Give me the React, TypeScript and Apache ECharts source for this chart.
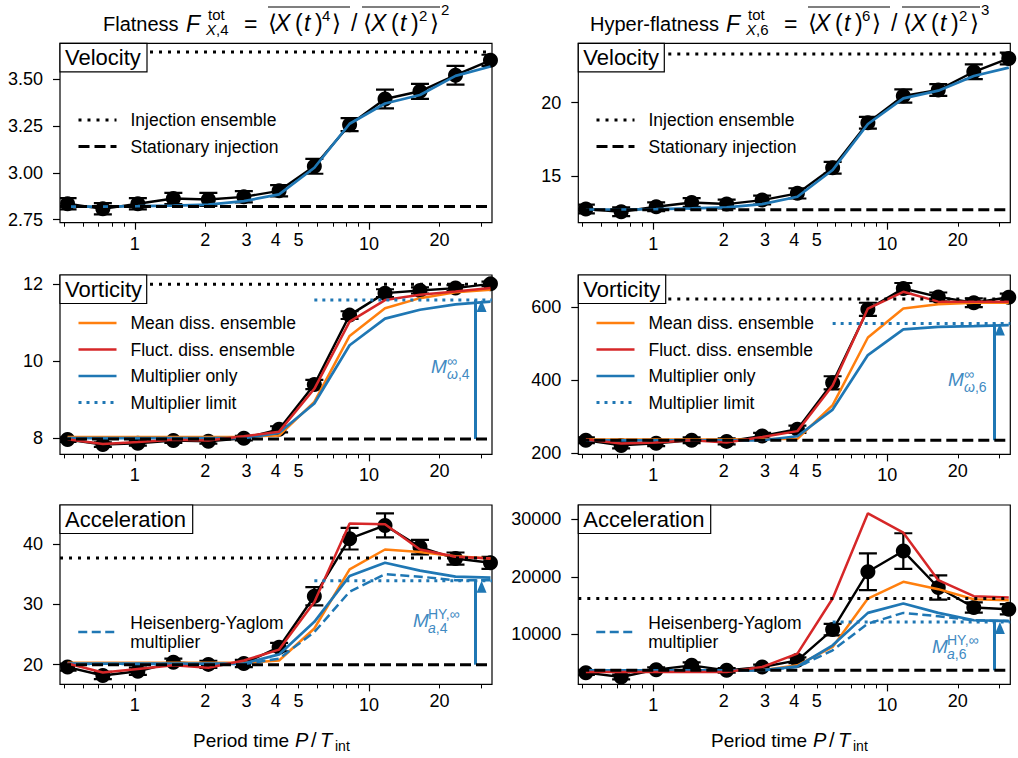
import React, { useEffect, useRef } from 'react';
import * as echarts from 'echarts';

const FONT = '"Liberation Sans", Arial, "DejaVu Sans", sans-serif';
const BLUE = '#1f77b4';
const ORANGE = '#ff7f0e';
const RED = '#d62728';
const ANN = '#3f8ac2';

// ---------------- data ----------------
const periods = [0.516, 0.73, 1.03, 1.46, 2.06, 2.92, 4.13, 5.84, 8.26, 11.7, 16.5, 23.4, 33.0];
const xMajorTicks = [1, 10];
const xMinorTicks = [0.5, 0.6, 0.7, 0.8, 0.9, 2, 3, 4, 5, 6, 7, 8, 9, 20, 30];
const xMinorLabels = [2, 3, 4, 5, 20];
const xRange = [0.479, 33.5];
const limitStart = 5.84;
const arrowX = 28.5;

// Velocity, flatness
const velF4Dns = [2.835, 2.808, 2.835, 2.863, 2.858, 2.872, 2.904, 3.035, 3.257, 3.394, 3.435, 3.521, 3.6];
const velF4Err = [0.03, 0.03, 0.03, 0.03, 0.035, 0.03, 0.03, 0.04, 0.035, 0.05, 0.04, 0.05, 0.03];
const velF4Mult = [2.82, 2.82, 2.822, 2.825, 2.83, 2.849, 2.885, 3.027, 3.262, 3.37, 3.415, 3.517, 3.567];
const velF4Inj = 3.644;
const velF4Stat = 2.82;
const velF4Ticks = [2.75, 3.0, 3.25, 3.5];

// Velocity, hyper-flatness
const velF6Dns = [12.75, 12.57, 12.91, 13.2, 13.09, 13.36, 13.82, 15.57, 18.64, 20.46, 20.87, 22.11, 23.02];
const velF6Err = [0.3, 0.3, 0.3, 0.3, 0.3, 0.3, 0.35, 0.4, 0.4, 0.45, 0.4, 0.5, 0.4];
const velF6Mult = [12.72, 12.72, 12.75, 12.8, 12.86, 13.09, 13.59, 15.41, 18.55, 20.3, 20.82, 21.82, 22.39];
const velF6Inj = 23.32;
const velF6Stat = 12.7;
const velF6Ticks = [15, 20];

// Vorticity, flatness
const vorF4Dns = [7.965, 7.835, 7.87, 7.94, 7.92, 8.0, 8.23, 9.39, 11.19, 11.76, 11.83, 11.89, 12.0];
const vorF4Err = [0.06, 0.06, 0.06, 0.06, 0.06, 0.06, 0.08, 0.12, 0.1, 0.1, 0.08, 0.08, 0.06];
const vorF4Mean = [8.03, 8.03, 8.03, 8.03, 8.03, 8.04, 8.07, 8.94, 10.65, 11.37, 11.63, 11.78, 11.85];
const vorF4Fluct = [7.97, 7.85, 7.9, 7.96, 7.94, 8.05, 8.17, 9.28, 11.02, 11.58, 11.72, 11.8, 11.89];
const vorF4Mult = [8.0, 8.0, 8.0, 8.0, 8.0, 8.0, 8.14, 8.9, 10.41, 11.1, 11.33, 11.47, 11.54];
const vorF4Limit = 11.585;
const vorF4Inj = 11.99;
const vorF4Stat = 7.98;
const vorF4Ticks = [8, 10, 12];

// Vorticity, hyper-flatness
const vorF6Dns = [235, 221, 227, 235, 232, 247, 265, 392, 593, 650, 627, 611, 626];
const vorF6Err = [8, 8, 8, 8, 8, 8, 10, 18, 18, 15, 12, 12, 10];
const vorF6Mean = [237, 237, 237, 237, 237, 238, 239, 331, 516, 595, 607, 611, 611];
const vorF6Fluct = [237, 226, 229, 235, 229, 244, 260, 385, 595, 641, 614, 614, 614];
const vorF6Mult = [235, 235, 235, 235, 235, 235, 246, 319, 468, 538, 545, 547, 550];
const vorF6Limit = 554;
const vorF6Inj = 621;
const vorF6Stat = 235;
const vorF6Ticks = [200, 400, 600];

// Acceleration, flatness
const accF4Dns = [19.6, 18.2, 18.9, 20.4, 20.05, 20.2, 22.9, 31.35, 40.9, 43.1, 39.5, 37.6, 36.9];
const accF4Err = [0.6, 0.6, 0.6, 0.6, 0.6, 0.6, 0.7, 1.5, 1.8, 2.0, 1.2, 1.0, 1.0];
const accF4Mean = [20.3, 20.3, 20.3, 20.3, 20.3, 20.3, 20.7, 26.0, 35.8, 39.1, 38.7, 38.0, 37.6];
const accF4Fluct = [20.2, 18.7, 19.3, 19.9, 19.5, 20.7, 22.5, 30.4, 43.4, 43.3, 39.1, 37.9, 37.6];
const accF4Mult = [20.17, 20.17, 20.17, 20.17, 20.17, 20.2, 21.7, 27.1, 34.7, 36.9, 35.6, 34.6, 34.45];
const accF4HY = [20.1, 20.1, 20.1, 20.1, 20.1, 20.1, 21.0, 25.4, 32.1, 35.0, 34.6, 34.0, 34.0];
const accF4Limit = 33.9;
const accF4Inj = 37.7;
const accF4Stat = 20.0;
const accF4Ticks = [20, 30, 40];

// Acceleration, hyper-flatness
const accF6Dns = [3314, 2558, 3837, 4593, 3721, 4302, 5465, 10814, 20872, 24477, 18140, 14651, 14360];
const accF6Err = [400, 400, 400, 500, 400, 400, 500, 1000, 3200, 3100, 2100, 900, 900];
const accF6Mean = [3721, 3721, 3721, 3721, 3721, 3721, 4593, 7790, 16221, 19128, 17849, 16105, 15930];
const accF6Fluct = [3430, 3430, 3430, 3430, 3430, 4302, 6628, 16221, 31047, 27674, 19419, 16628, 16395];
const accF6Mult = [3721, 3721, 3721, 3721, 3721, 3721, 4419, 8081, 13721, 15349, 13721, 12442, 12326];
const accF6HY = [3721, 3721, 3721, 3721, 3721, 3721, 4302, 7209, 11860, 13721, 13140, 12442, 12267];
const accF6Limit = 12151;
const accF6Inj = 16221;
const accF6Stat = 3721;
const accF6Ticks = [10000, 20000, 30000];

// ---------------- layout ----------------
const GRID_LEFT = [60, 578.3];
const GRID_TOP = [43.3, 275, 505];
const GRID_W = 432;
const GRID_H = 179.4;

type Panel = {
  label: string; boxW: number; yRange: number[]; yTicks: number[]; dec: number;
  dns: number[]; err: number[]; mult: number[]; mean?: number[]; fluct?: number[]; hy?: number[];
  limit?: number; inj: number; stat: number; legend: string[]; legendTop: number;
};

const panels: Panel[] = [
  { label: 'Velocity', boxW: 87, yRange: [2.734, 3.691], yTicks: velF4Ticks, dec: 2, dns: velF4Dns, err: velF4Err, mult: velF4Mult, inj: velF4Inj, stat: velF4Stat, legend: ['Injection ensemble', 'Stationary injection'], legendTop: 110 },
  { label: 'Velocity', boxW: 86, yRange: [11.82, 24.05], yTicks: velF6Ticks, dec: 0, dns: velF6Dns, err: velF6Err, mult: velF6Mult, inj: velF6Inj, stat: velF6Stat, legend: ['Injection ensemble', 'Stationary injection'], legendTop: 110 },
  { label: 'Vorticity', boxW: 86.7, yRange: [7.58, 12.23], yTicks: vorF4Ticks, dec: 0, dns: vorF4Dns, err: vorF4Err, mult: vorF4Mult, mean: vorF4Mean, fluct: vorF4Fluct, limit: vorF4Limit, inj: vorF4Inj, stat: vorF4Stat, legend: ['Mean diss. ensemble', 'Fluct. diss. ensemble', 'Multiplier only', 'Multiplier limit'], legendTop: 313 },
  { label: 'Vorticity', boxW: 87.4, yRange: [196.4, 686.8], yTicks: vorF6Ticks, dec: 0, dns: vorF6Dns, err: vorF6Err, mult: vorF6Mult, mean: vorF6Mean, fluct: vorF6Fluct, limit: vorF6Limit, inj: vorF6Inj, stat: vorF6Stat, legend: ['Mean diss. ensemble', 'Fluct. diss. ensemble', 'Multiplier only', 'Multiplier limit'], legendTop: 313 },
  { label: 'Acceleration', boxW: 132.7, yRange: [16.73, 46.48], yTicks: accF4Ticks, dec: 0, dns: accF4Dns, err: accF4Err, mult: accF4Mult, mean: accF4Mean, fluct: accF4Fluct, hy: accF4HY, limit: accF4Limit, inj: accF4Inj, stat: accF4Stat, legend: ['Heisenberg-Yaglom multiplier'], legendTop: 613 },
  { label: 'Acceleration', boxW: 132.4, yRange: [1274, 32496], yTicks: accF6Ticks, dec: 0, dns: accF6Dns, err: accF6Err, mult: accF6Mult, mean: accF6Mean, fluct: accF6Fluct, hy: accF6HY, limit: accF6Limit, inj: accF6Inj, stat: accF6Stat, legend: ['Heisenberg-Yaglom multiplier'], legendTop: 613 },
];

const errRender = (params: any, api: any) => {
  const x = api.value(0);
  const y = api.value(1);
  const e = api.value(2);
  const top = api.coord([x, y + e]);
  const bot = api.coord([x, y - e]);
  const hw = 9;
  const style = { stroke: '#000', lineWidth: 2.2 };
  return {
    type: 'group',
    children: [
      { type: 'line', shape: { x1: top[0], y1: top[1], x2: bot[0], y2: bot[1] }, style },
      { type: 'line', shape: { x1: top[0] - hw, y1: top[1], x2: top[0] + hw, y2: top[1] }, style },
      { type: 'line', shape: { x1: bot[0] - hw, y1: bot[1], x2: bot[0] + hw, y2: bot[1] }, style },
    ],
  };
};

const T = (x: number, y: number, text: string, size: number, opts: any = {}) => ({
  type: 'text',
  x,
  y,
  z: 100,
  silent: true,
  style: {
    text,
    fontSize: size,
    fontFamily: FONT,
    fill: opts.fill || '#000',
    fontStyle: opts.italic ? 'italic' : 'normal',
    align: 'left',
    textAlign: 'left',
    verticalAlign: 'middle',
    textVerticalAlign: 'middle',
    rich: { i: { fontStyle: 'italic', fontSize: size, fontFamily: FONT, fill: opts.fill || '#000' } },
  },
});

const MS = 23; // math glyph size
const SS = 15; // script size
const titleParts = (dx: number, word: string, wordX: number, n: string, m: string) => [
  T(wordX, 24, word, 20),
  T(dx + 186, 24, 'F', MS, { italic: true }),
  T(dx + 208, 14.5, 'tot', SS),
  T(dx + 206, 29, '{i|X},' + n, SS),
  T(dx + 244, 24, '=', MS),
  T(dx + 268, 23, '⟨', MS),
  T(dx + 275, 23, 'X', MS, { italic: true }),
  T(dx + 295, 23, '(', MS),
  T(dx + 304, 23, 't', MS, { italic: true }),
  T(dx + 315, 23, ')', MS),
  T(dx + 322, 15.5, n, SS),
  T(dx + 332, 23, '⟩', MS),
  T(dx + 351, 23, '/', MS),
  T(dx + 363, 23, '⟨', MS),
  T(dx + 371, 23, 'X', MS, { italic: true }),
  T(dx + 391, 23, '(', MS),
  T(dx + 400, 23, 't', MS, { italic: true }),
  T(dx + 411, 23, ')', MS),
  T(dx + 419, 15.5, '2', SS),
  T(dx + 430, 23, '⟩', MS),
  T(dx + 441, 9, m, SS),
  { type: 'line', z: 100, shape: { x1: dx + 268, y1: 7, x2: dx + 350, y2: 7 }, style: { stroke: '#000', lineWidth: 1.1 } },
  { type: 'line', z: 100, shape: { x1: dx + 362, y1: 7, x2: dx + 440, y2: 7 }, style: { stroke: '#000', lineWidth: 1.1 } },
];

const xTitle = (dx: number) => [
  T(dx + 193, 740, 'Period time', 19),
  T(dx + 295, 740, 'P', 20, { italic: true }),
  T(dx + 311, 740, '/', 20),
  T(dx + 320, 740, 'T', 20, { italic: true }),
  T(dx + 335, 746, 'int', 14),
];

const annotations = [
  T(431, 366.5, 'M', 19, { italic: true, fill: ANN }),
  T(447, 361, '∞', 14, { fill: ANN }),
  T(447, 373.5, '{i|ω},4', 14, { fill: ANN }),
  T(948, 379.5, 'M', 19, { italic: true, fill: ANN }),
  T(964, 374, '∞', 14, { fill: ANN }),
  T(964, 387, '{i|ω},6', 14, { fill: ANN }),
  T(413, 620, 'M', 19, { italic: true, fill: ANN }),
  T(428, 614, 'HY,∞', 14, { fill: ANN }),
  T(428, 628, '{i|a},4', 14, { fill: ANN }),
  T(932, 646, 'M', 19, { italic: true, fill: ANN }),
  T(947, 640, 'HY,∞', 14, { fill: ANN }),
  T(947, 654, '{i|a},6', 14, { fill: ANN }),
];

function buildOption() {
  const grid: any[] = [];
  const xAxis: any[] = [];
  const yAxis: any[] = [];
  const series: any[] = [];
  const legend: any[] = [];
  const graphic: any[] = [];

  panels.forEach((pn, g) => {
    const col = g % 2;
    const row = Math.floor(g / 2);
    const left = GRID_LEFT[col];
    const top = GRID_TOP[row];
    grid.push({ left, top, width: GRID_W, height: GRID_H, show: true, borderColor: '#000', borderWidth: 1.2, backgroundColor: 'rgba(0,0,0,0)', containLabel: false, outerBoundsMode: 'none' });
    const baseX = {
      type: 'log', logBase: 10, gridIndex: g, min: xRange[0], max: xRange[1], position: 'bottom', offset: 0,
      axisLine: { show: false }, splitLine: { show: false }, minorTick: { show: false }, minorSplitLine: { show: false },
    };
    xAxis.push({
      ...baseX,
      axisTick: { show: true, inside: false, length: 7, customValues: xMajorTicks, lineStyle: { color: '#000', width: 1.2 } },
      axisLabel: { show: true, customValues: xMajorTicks, margin: 12, fontSize: 18, fontFamily: FONT, color: '#000', formatter: (v: number) => String(Math.round(v)) },
    });
    xAxis.push({
      ...baseX,
      axisTick: { show: true, inside: false, length: 4, customValues: xMinorTicks, lineStyle: { color: '#000', width: 1 } },
      axisLabel: { show: true, customValues: xMinorLabels, margin: 8, fontSize: 18, fontFamily: FONT, color: '#000', formatter: (v: number) => String(Math.round(v)) },
    });
    yAxis.push({
      type: 'value', gridIndex: g, min: pn.yRange[0], max: pn.yRange[1], position: 'left',
      axisLine: { show: false }, splitLine: { show: false },
      axisTick: { show: true, inside: false, length: 7, customValues: pn.yTicks, lineStyle: { color: '#000', width: 1.2 } },
      axisLabel: { show: true, customValues: pn.yTicks, margin: 17, fontSize: 18, fontFamily: FONT, color: '#000', formatter: (v: number) => v.toFixed(pn.dec) },
    });

    const xi = 2 * g;
    const pts = (arr: number[]) => periods.map((p, i) => [p, arr[i]]);
    const common = { xAxisIndex: xi, yAxisIndex: g, silent: true, animation: false };

    series.push({
      ...common, type: 'custom', name: 'DNS errors', z: 2, clip: true,
      renderItem: errRender,
      encode: { x: 0, y: 1 },
      data: periods.map((p, i) => [p, pn.dns[i], pn.err[i]]),
    });
    series.push({
      ...common, type: 'line', name: 'DNS', z: 3, clip: true,
      data: pts(pn.dns), symbol: 'circle', symbolSize: 15, showSymbol: true,
      lineStyle: { color: '#000', width: 2.4 }, itemStyle: { color: '#000' },
    });
    if (pn.mean) {
      series.push({ ...common, type: 'line', name: 'Mean diss. ensemble', z: 4, symbol: 'none', data: pts(pn.mean), lineStyle: { color: ORANGE, width: 2.5 }, itemStyle: { color: ORANGE } });
    }
    if (pn.hy) {
      series.push({ ...common, type: 'line', name: 'Heisenberg-Yaglom multiplier', z: 4, symbol: 'none', data: pts(pn.hy), lineStyle: { color: BLUE, width: 2.5, type: [9, 4.5] }, itemStyle: { color: BLUE } });
    }
    series.push({ ...common, type: 'line', name: 'Multiplier only', z: 4, symbol: 'none', data: pts(pn.mult), lineStyle: { color: BLUE, width: 2.7 }, itemStyle: { color: BLUE } });
    if (pn.fluct) {
      series.push({ ...common, type: 'line', name: 'Fluct. diss. ensemble', z: 4, symbol: 'none', data: pts(pn.fluct), lineStyle: { color: RED, width: 2.5 }, itemStyle: { color: RED } });
    }
    series.push({ ...common, type: 'line', name: 'Injection ensemble', z: 5, symbol: 'none', data: [[xRange[0], pn.inj], [xRange[1], pn.inj]], lineStyle: { color: '#000', width: 3, type: [3, 6] }, itemStyle: { color: '#000' } });
    series.push({ ...common, type: 'line', name: 'Stationary injection', z: 5, symbol: 'none', data: [[xRange[0], pn.stat], [xRange[1], pn.stat]], lineStyle: { color: '#000', width: 3, type: [11, 5] }, itemStyle: { color: '#000' } });
    if (pn.limit !== undefined) {
      series.push({
        ...common, type: 'line', name: 'Multiplier limit', z: 5, symbol: 'none',
        data: [[limitStart, pn.limit], [xRange[1], pn.limit]],
        lineStyle: { color: BLUE, width: 3, type: [3, 5] }, itemStyle: { color: BLUE },
        markLine: {
          silent: true, animation: false, symbol: ['none', 'triangle'], symbolSize: [10, 12], symbolOffset: [0, 6],
          label: { show: false }, emphasis: { disabled: true },
          lineStyle: { color: BLUE, width: 3, type: 'solid' },
          data: [[{ coord: [arrowX, pn.stat] }, { coord: [arrowX, pn.limit] }]],
        },
      });
    }

    legend.push({
      orient: 'vertical', left: col === 0 ? 77 : 595, top: pn.legendTop, padding: 0,
      itemWidth: 38, itemHeight: 14, itemGap: g >= 4 ? 0 : 6.5, selectedMode: false,
      data: pn.legend,
      lineStyle: { width: 'inherit' },
      itemStyle: { color: 'rgba(0,0,0,0)', borderColor: 'rgba(0,0,0,0)', borderWidth: 0, opacity: 0 },
      formatter: (name: string) => (name === 'Heisenberg-Yaglom multiplier' ? 'Heisenberg-Yaglom\nmultiplier' : name),
      textStyle: { fontSize: 17.5, fontFamily: FONT, color: '#000', lineHeight: g >= 4 ? 19 : 20, padding: [0, 0, 0, 9] },
    });

    graphic.push({ type: 'rect', z: 99, silent: true, shape: { x: left, y: top, width: pn.boxW, height: 28.5 }, style: { fill: '#fff', stroke: '#000', lineWidth: 1.2 } });
    graphic.push(T(left + 5, top + 14.5, pn.label, 22));
  });

  graphic.push(...titleParts(0, 'Flatness', 103, '4', '2'));
  graphic.push(...titleParts(540, 'Hyper-flatness', 590, '6', '3'));
  graphic.push(...xTitle(0));
  graphic.push(...xTitle(518));
  graphic.push(...annotations);

  return {
    animation: false,
    backgroundColor: '#fff',
    grid, xAxis, yAxis, series, legend, graphic,
  };
}

export default function App() {
  const ref = useRef<HTMLDivElement>(null);
  useEffect(() => {
    if (!ref.current) return;
    const chart = echarts.init(ref.current, null, { renderer: 'svg' });
    chart.setOption(buildOption() as any);
    return () => chart.dispose();
  }, []);
  return (
    <div
      ref={ref}
      style={{ position: 'fixed', left: 0, top: 0, width: 1018, height: 758, background: '#fff' }}
    />
  );
}
